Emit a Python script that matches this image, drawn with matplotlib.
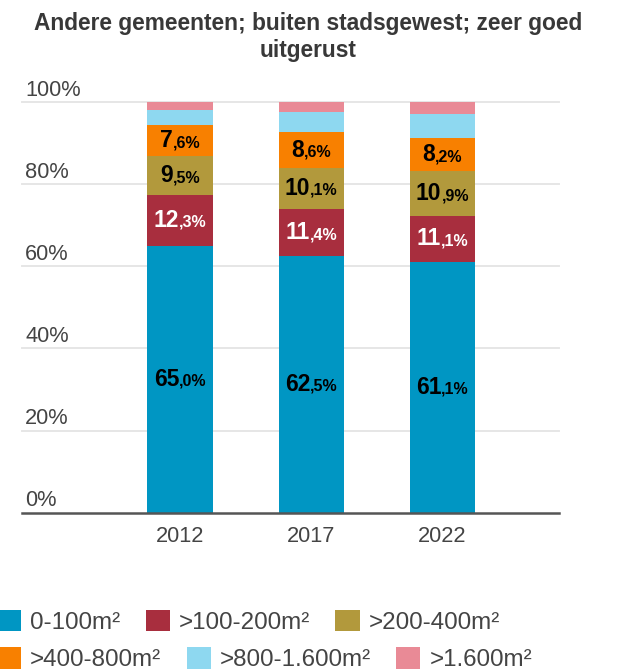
import matplotlib.pyplot as plt
from matplotlib.offsetbox import TextArea, HPacker, AnnotationBbox
from matplotlib.patches import Patch
from matplotlib.transforms import offset_copy, blended_transform_factory

plt.rcParams['font.family'] = ['Liberation Sans', 'DejaVu Sans']

# Share of floor area classes per year (percent)
years = ['2012', '2017', '2022']
categories = ['0-100m²', '>100-200m²', '>200-400m²',
              '>400-800m²', '>800-1.600m²', '>1.600m²']
share_0_100 = [65.0, 62.5, 61.1]
share_100_200 = [12.3, 11.4, 11.1]
share_200_400 = [9.5, 10.1, 10.9]
share_400_800 = [7.6, 8.6, 8.2]
share_800_1600 = [3.7, 5.0, 5.8]
share_1600 = [1.9, 2.4, 2.9]
y_ticks = [0, 20, 40, 60, 80, 100]

series = [share_0_100, share_100_200, share_200_400,
          share_400_800, share_800_1600, share_1600]
colors = ['#0096c3', '#a82e3e', '#b2993c', '#f88000', '#8ed8f0', '#e98a96']
# label colour per series, None = no labels
label_colors = ['black', 'white', 'black', 'black', None, None]

text_grey = '#444444'

fig = plt.figure(figsize=(6.17, 6.71), dpi=100)
ax = fig.add_axes([22 / 617, 1 - 512.7 / 671, (559 - 22) / 617, (512.7 - 102) / 671])

x = list(range(len(years)))
bottom = [0.0] * len(years)
for vals, color, tc in zip(series, colors, label_colors):
    ax.bar(x, vals, width=0.5, bottom=bottom, color=color, zorder=2)
    if tc is not None:
        for xi, b, v in zip(x, bottom, vals):
            whole, dec = f"{v:.1f}".split('.')
            box = HPacker(children=[
                TextArea(whole, textprops=dict(fontsize=16.5, fontweight='bold', color=tc)),
                TextArea(',' + dec + '%', textprops=dict(fontsize=11.5, fontweight='bold', color=tc)),
            ], align='baseline', pad=0, sep=0)
            ab = AnnotationBbox(box, (xi, b + v / 2), frameon=False,
                                box_alignment=(0.5, 0.5), pad=0, zorder=3)
            ax.add_artist(ab)
    bottom = [b + v for b, v in zip(bottom, vals)]

ax.set_xlim(-1.206, 2.889)
ax.set_ylim(0, 100)

# horizontal grid with labels sitting above each line
for t in y_ticks[1:]:
    ax.axhline(t, color='#e6e6e6', lw=1.4, zorder=1, clip_on=False)
label_trans = offset_copy(blended_transform_factory(fig.transFigure, ax.transData),
                          fig=fig, y=6.5, units='dots')
for t in y_ticks:
    ax.text(25 / 617, t, f"{t}%", transform=label_trans, ha='left', va='baseline',
            fontsize=15.7, color=text_grey)

ax.set_yticks([])
ax.set_xticks(x, years)
ax.tick_params(axis='x', length=0, pad=9.4, labelsize=15.7, labelcolor=text_grey)
for side in ['top', 'right', 'left']:
    ax.spines[side].set_visible(False)
ax.spines['bottom'].set_color('#555555')
ax.spines['bottom'].set_linewidth(1.8)
ax.spines['bottom'].set_zorder(4)

fig.text(0.4995, 1 - 37 / 671, "Andere gemeenten; buiten stadsgewest; zeer goed\nuitgerust",
         ha='center', va='center', fontsize=16.4, fontweight='bold', color='#383838')

# legend in two rows of three
handles = [Patch(facecolor=c, label=l) for c, l in zip(colors, categories)]
leg_kw = dict(loc='center left', ncol=3, frameon=False, borderpad=0, borderaxespad=0,
              handlelength=1.0, handleheight=1.0, handletextpad=0.375,
              columnspacing=1.04, fontsize=17.4, labelcolor=text_grey)
fig.legend(handles=handles[:3], bbox_to_anchor=(-3 / 617, 1 - 621.7 / 671), **leg_kw)
fig.legend(handles=handles[3:], bbox_to_anchor=(-3 / 617, 1 - 659.0 / 671), **leg_kw)

fig.savefig('out.png', dpi=100)
